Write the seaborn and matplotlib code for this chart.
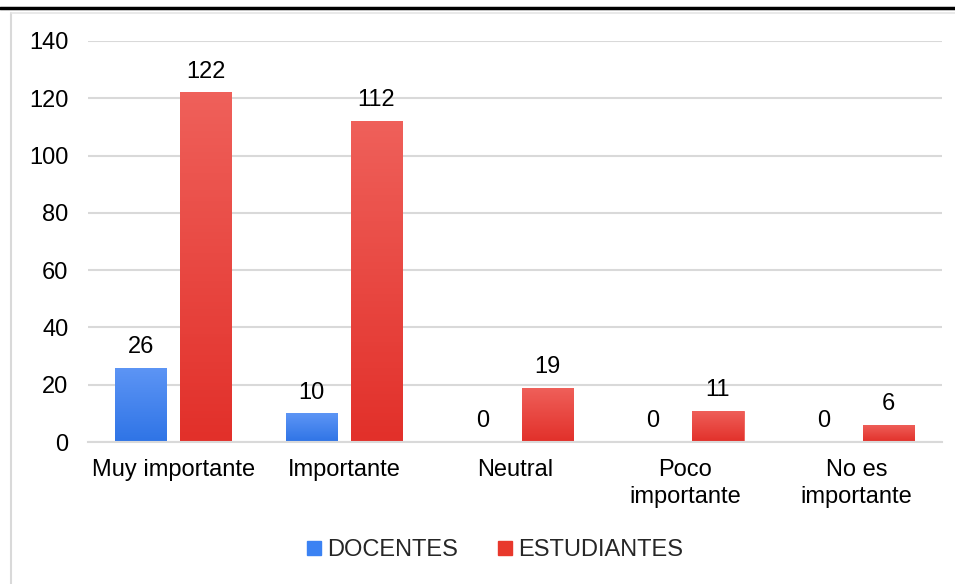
import numpy as np
import pandas as pd
import matplotlib.pyplot as plt
import seaborn as sns
from matplotlib.colors import LinearSegmentedColormap
from matplotlib.lines import Line2D

# -----------------------------------------
# Data
# -----------------------------------------
categorias = ["Muy importante", "Importante", "Neutral", "Poco\nimportante", "No es\nimportante"]
docentes = [26, 10, 0, 0, 0]
estudiantes = [122, 112, 19, 11, 6]
grupos = ["DOCENTES", "ESTUDIANTES"]
colores = {"DOCENTES": "#3b82f3", "ESTUDIANTES": "#e8382c"}
gradientes = {
    "DOCENTES": ("#2f74e6", "#5d95f5"),
    "ESTUDIANTES": ("#e2302a", "#ef605a"),
}

df = pd.DataFrame({
    "categoria": categorias * 2,
    "valor": docentes + estudiantes,
    "grupo": [grupos[0]] * len(categorias) + [grupos[1]] * len(categorias),
})

sns.set_theme(style="white")
plt.rcParams["font.family"] = ["Liberation Sans", "DejaVu Sans"]
FS = 17

fig = plt.figure(figsize=(9.55, 5.84), dpi=100)
ax = fig.add_axes([0.092, 0.243, 0.894, 0.687])

sns.barplot(data=df, x="categoria", y="valor", hue="grupo", palette=colores,
            width=0.76, gap=0.21, ax=ax, legend=False, saturation=1)

# value labels
for cont in ax.containers:
    ax.bar_label(cont, padding=7, fontsize=FS, color="#000000")

# vertical gradient fill on each bar
for cont, g in zip(ax.containers, grupos):
    cmap = LinearSegmentedColormap.from_list(g, gradientes[g])
    for bar in cont:
        h = bar.get_height()
        if h <= 0:
            continue
        x0 = bar.get_x()
        w = bar.get_width()
        img = ax.imshow(np.linspace(0, 1, 100).reshape(-1, 1), cmap=cmap,
                        origin="lower", aspect="auto",
                        extent=[x0, x0 + w, 0, h], zorder=bar.get_zorder())
        img.set_clip_path(bar)
        bar.set_edgecolor(gradientes[g][1])
        bar.set_linewidth(0.6)

ax.set_xlim(-0.5, 4.5)
ax.set_ylim(0, 140)
ax.set_yticks(range(0, 141, 20))
ax.yaxis.grid(True, color="#d9d9d9", linewidth=1.5)
ax.set_axisbelow(True)
for s in ["top", "right", "left"]:
    ax.spines[s].set_visible(False)
ax.spines["bottom"].set_color("#d9d9d9")
ax.spines["bottom"].set_linewidth(1.5)
ax.tick_params(axis="both", labelsize=FS, colors="#000000", length=0)
ax.tick_params(axis="x", pad=12)
ax.tick_params(axis="y", pad=14)
for lbl in ax.get_xticklabels():
    lbl.set_linespacing(1.3)
ax.set_xlabel("")
ax.set_ylabel("")

# legend
handles = [Line2D([0], [0], marker="s", linestyle="", markersize=10,
                  markerfacecolor=colores[g], markeredgecolor=colores[g]) for g in grupos]
fig.legend(handles, grupos, loc="center", bbox_to_anchor=(0.516, 0.058), ncol=2,
           frameon=False, fontsize=FS, handletextpad=0.05, columnspacing=1.5,
           handlelength=1.0)

# frame lines
fig.add_artist(Line2D([0, 1], [0.986, 0.986], color="#000000", linewidth=2.5))
fig.add_artist(Line2D([0.0115, 0.0115], [0, 0.978], color="#d9d9d9", linewidth=1.5))
fig.add_artist(Line2D([0.0115, 1], [0.978, 0.978], color="#e5e5e5", linewidth=1.2))

fig.savefig("out.png", dpi=100)
